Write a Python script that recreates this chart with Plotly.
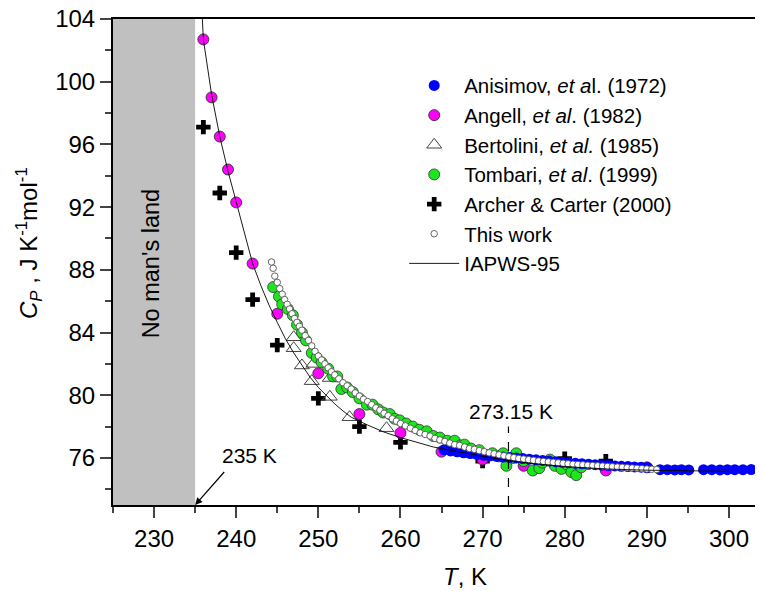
import plotly.graph_objects as go

# ---------------- data ----------------
# Anisimov et al. (1972)
anis_T = [265.3, 266.1, 266.9, 267.7, 268.5, 269.3, 270.1, 270.9, 271.7, 272.5, 273.3, 274.1,
          274.9, 275.7, 276.5, 277.3, 278.1, 278.9, 279.7, 280.5, 281.3, 282.1, 282.9, 283.7,
          284.5, 285.3, 286.1, 286.9, 287.7, 288.5, 289.3, 290.1, 291.6, 292.5, 293.4, 294.2,
          295.1, 296.9, 297.9, 298.9, 299.8, 300.7, 301.7, 302.7, 303.7]
anis_Cp = [76.52, 76.45, 76.39, 76.33, 76.28, 76.23, 76.18, 76.14, 76.10, 76.06, 76.03, 76.00,
           75.96, 75.92, 75.88, 75.84, 75.80, 75.76, 75.72, 75.69, 75.66, 75.63, 75.60, 75.57,
           75.54, 75.52, 75.49, 75.47, 75.45, 75.43, 75.41, 75.39, 75.25, 75.25, 75.24, 75.25,
           75.24, 75.25, 75.25, 75.24, 75.25, 75.25, 75.25, 75.26, 75.25]

# Angell et al. (1982)
ang_T = [236, 237, 238, 239, 240, 242, 245, 250, 255, 260, 265, 270, 275, 280, 285, 290]
ang_Cp = [102.7, 99.0, 96.5, 94.4, 92.3, 88.4, 85.2, 81.4, 78.8, 77.6, 76.4, 75.9, 75.5,
          75.4, 75.2, 75.4]

# Bertolini et al. (1985)
bert_T = [247.0, 247.0, 248.0, 249.2, 249.4, 251.4, 251.4, 253.8, 258.3]
bert_Cp = [83.7, 83.0, 81.9, 80.9, 82.0, 81.1, 79.9, 78.6, 77.9]

# Tombari et al. (1999)
tomb_T = [244.5, 245.2, 245.6, 246.3, 246.9, 247.4, 248.0, 248.5, 249.2, 249.8, 250.4, 251.2,
          251.8, 252.3, 252.8, 253.5, 254.2, 255.0, 255.9, 256.6, 257.3, 257.9, 258.7, 259.3,
          259.9, 260.7, 261.5, 262.3, 263.2, 264.0, 264.8, 265.7, 266.6, 267.3, 267.8, 268.6,
          269.6, 270.4, 271.2, 272.0, 272.5, 272.9, 273.7, 274.1, 275.0, 276.1, 276.9, 277.3,
          278.2, 278.8, 279.6, 280.2, 280.8, 281.4, 282.0]
tomb_Cp = [86.9, 86.3, 85.8, 85.5, 85.1, 84.5, 84.0, 83.5, 82.7, 82.4, 82.1, 81.7,
           81.2, 81.2, 80.4, 80.5, 80.2, 79.8, 79.4, 79.4, 79.1, 78.9, 78.8, 78.5,
           78.4, 78.2, 78.0, 77.8, 77.7, 77.4, 77.3, 77.1, 77.1, 76.8, 76.85, 76.6,
           76.5, 76.2, 76.3, 76.1, 76.3, 75.5, 76.0, 76.3, 75.8, 75.2, 75.35, 75.7,
           75.9, 75.5, 75.3, 75.6, 75.1, 74.9, 75.4]

# Archer & Carter (2000)
arch_T = [236, 238, 240, 242, 245, 250, 255, 260, 270, 280, 285]
arch_Cp = [97.1, 92.9, 89.1, 86.1, 83.2, 79.8, 78.0, 77.0, 75.8, 75.95, 75.8]

# This work
tw_T = [244.3, 244.5, 244.7, 245.0, 245.3, 245.6, 245.9, 246.2, 246.5, 246.8, 247.1, 247.4,
        247.7, 248.0, 248.4, 248.8, 249.2, 249.6, 250.0, 250.4, 250.8, 251.2, 251.6, 252.0,
        252.5, 253.0, 253.5, 254.0, 254.5, 255.0, 255.5, 256.0, 256.5, 257.0, 257.5, 258.0,
        258.5, 259.0, 259.5, 260.0, 260.6, 261.2, 261.8, 262.4, 263.0, 263.6, 264.2, 264.8,
        265.4, 266.0, 266.6, 267.2, 267.8, 268.4, 269.0, 269.6, 270.2, 270.8, 271.4, 272.0,
        272.6, 273.2, 273.8, 274.4, 275.0, 275.6, 276.2, 276.8, 277.4, 278.0, 278.6, 279.2,
        279.8, 280.4, 281.0, 281.6, 282.2, 282.8, 283.4, 284.0, 284.6, 285.2, 285.8, 286.4,
        287.0, 287.6, 288.2, 288.8, 289.4, 290.0, 290.6, 291.2]
tw_Cp = [88.5, 88.1, 87.6, 87.2, 86.8, 86.45, 86.1, 85.8, 85.5, 85.2, 84.9, 84.65,
         84.4, 84.15, 83.8, 83.5, 83.15, 82.8, 82.5, 82.25, 82.0, 81.75, 81.5, 81.3,
         81.05, 80.8, 80.6, 80.4, 80.15, 79.95, 79.75, 79.6, 79.4, 79.2, 79.05, 78.85,
         78.7, 78.5, 78.35, 78.2, 78.05, 77.9, 77.75, 77.6, 77.5, 77.4, 77.25, 77.15,
         77.05, 76.95, 76.85, 76.8, 76.7, 76.6, 76.55, 76.47, 76.4, 76.33, 76.27, 76.2,
         76.14, 76.08, 76.02, 75.97, 75.93, 75.89, 75.85, 75.81, 75.78, 75.75, 75.72, 75.69,
         75.66, 75.63, 75.6, 75.58, 75.56, 75.54, 75.52, 75.5, 75.48, 75.46, 75.44, 75.42,
         75.4, 75.38, 75.36, 75.34, 75.32, 75.3, 75.28, 75.26]

# IAPWS-95 curve
iap_T = [235.85, 236, 237, 238, 239, 240, 241, 242, 243, 244, 245, 246, 247, 248, 249, 250,
         251, 252, 253, 254, 256, 258, 260, 262, 264, 266, 268, 270, 273, 276, 280, 285,
         290, 295, 300]
iap_Cp = [104.3, 102.7, 99.2, 96.5, 94.3, 92.3, 90.3, 88.4, 87.0, 85.75, 84.65, 83.6, 82.7,
          81.9, 81.15, 80.5, 79.95, 79.45, 79.0, 78.6, 78.1, 77.65, 77.3, 77.0, 76.7, 76.5,
          76.3, 76.1, 75.85, 75.65, 75.45, 75.3, 75.22, 75.17, 75.15]

x_ticks = [230, 240, 250, 260, 270, 280, 290, 300]
y_ticks = [76, 80, 84, 88, 92, 96, 100, 104]

FONT = "Liberation Sans, Arial, sans-serif"

fig = go.Figure()

fig.add_trace(go.Scatter(x=arch_T, y=arch_Cp, mode="markers", name="Archer &amp; Carter (2000)",
                         legendrank=5,
                         marker=dict(symbol="cross", size=12, color="black", line=dict(width=0))))
fig.add_trace(go.Scatter(x=ang_T, y=ang_Cp, mode="markers", name="Angell, <i>et al</i>. (1982)",
                         legendrank=2,
                         marker=dict(symbol="circle", size=11, color="#ff00ff",
                                     line=dict(color="#333333", width=0.9))))
fig.add_trace(go.Scatter(x=bert_T, y=bert_Cp, mode="markers", name="Bertolini, <i>et al.</i> (1985)",
                         legendrank=3,
                         marker=dict(symbol="triangle-up-open", size=13, color="#444444",
                                     line=dict(width=1))))
fig.add_trace(go.Scatter(x=tomb_T, y=tomb_Cp, mode="markers", name="Tombari, <i>et al</i>. (1999)",
                         legendrank=4,
                         marker=dict(symbol="circle", size=11, color="#1ee61e",
                                     line=dict(color="#333333", width=0.8))))
fig.add_trace(go.Scatter(x=anis_T, y=anis_Cp, mode="markers", name="Anisimov, <i>et a</i>l. (1972)",
                         legendrank=1,
                         marker=dict(symbol="circle", size=11, color="#0000ff",
                                     line=dict(color="#0000ff", width=0))))
fig.add_trace(go.Scatter(x=tw_T, y=tw_Cp, mode="markers", name="This work",
                         legendrank=6,
                         marker=dict(symbol="circle", size=6.5, color="white",
                                     line=dict(color="#555555", width=0.9))))
fig.add_trace(go.Scatter(x=iap_T, y=iap_Cp, mode="lines", name="IAPWS-95",
                         legendrank=7, line=dict(color="black", width=0.9)))

# grey "no man's land"
fig.add_shape(type="rect", xref="x", yref="paper", x0=225, x1=235, y0=0, y1=1,
              fillcolor="#c0c0c0", line=dict(width=0), layer="below")
# dashed 273.15 K line
fig.add_shape(type="line", xref="x", yref="y", x0=273.15, x1=273.15, y0=73, y1=78.0,
              line=dict(color="black", width=1.2, dash="dash"))

fig.add_annotation(x=229.6, y=88.4, xref="x", yref="y", text="No man's land", showarrow=False,
                   textangle=-90, font=dict(family=FONT, size=23.5, color="black"))
fig.add_annotation(x=241.6, y=76.15, xref="x", yref="y", text="235 K", showarrow=False,
                   font=dict(family=FONT, size=21, color="black"))
fig.add_annotation(x=235, y=73, xref="x", yref="y", ax=238.7, ay=75.2, axref="x", ayref="y",
                   text="", showarrow=True, arrowhead=2, arrowsize=1.2, arrowwidth=1.2,
                   arrowcolor="black", standoff=0)
fig.add_annotation(x=273.5, y=78.95, xref="x", yref="y", text="273.15 K", showarrow=False,
                   font=dict(family=FONT, size=21, color="black"))

# axis titles (placed as in the reference)
fig.add_annotation(x=-0.13, y=0.538, xref="paper", yref="paper", xanchor="center", yanchor="middle",
                   text="<i>C</i><sub><i>P</i></sub> , J K<sup>-1</sup>mol<sup>-1</sup>",
                   textangle=-90, showarrow=False, font=dict(family=FONT, size=24, color="black"))
fig.add_annotation(x=0.541, y=-0.148, xref="paper", yref="paper", xanchor="center", yanchor="middle",
                   text="<i>T</i>, K", showarrow=False, font=dict(family=FONT, size=24, color="black"))

# the page body adds an 8 px offset, so the figure is 8 px smaller than the window
fig.update_layout(
    width=755, height=583,
    margin=dict(l=105, r=0, t=11, b=86, autoexpand=False),
    paper_bgcolor="white", plot_bgcolor="white",
    font=dict(family=FONT, color="black"),
    showlegend=True,
    legend=dict(x=0.448, y=0.904, xanchor="left", yanchor="top",
                font=dict(family=FONT, size=20.5, color="black"),
                bgcolor="rgba(0,0,0,0)", borderwidth=0, itemwidth=50,
                traceorder="normal"),
    xaxis=dict(range=[225, 304.14], tickvals=x_ticks, ticks="outside", ticklen=11, tickwidth=1.5,
               showline=True, linewidth=2, linecolor="black", mirror=True, showgrid=False,
               zeroline=False, tickfont=dict(family=FONT, size=24), automargin=False,
               ticklabeloverflow="allow",
               minor=dict(dtick=5, tick0=225, ticks="outside", ticklen=6, tickwidth=1.5,
                          showgrid=False)),
    yaxis=dict(range=[73, 104], tickvals=y_ticks, ticks="outside", ticklen=11, tickwidth=1.5,
               showline=True, linewidth=2, linecolor="black", mirror=False, showgrid=False,
               zeroline=False, tickfont=dict(family=FONT, size=24), automargin=False,
               ticklabeloverflow="allow",
               minor=dict(dtick=2, tick0=74, ticks="outside", ticklen=6, tickwidth=1.5,
                          showgrid=False)),
)

fig.write_html("out.html")
